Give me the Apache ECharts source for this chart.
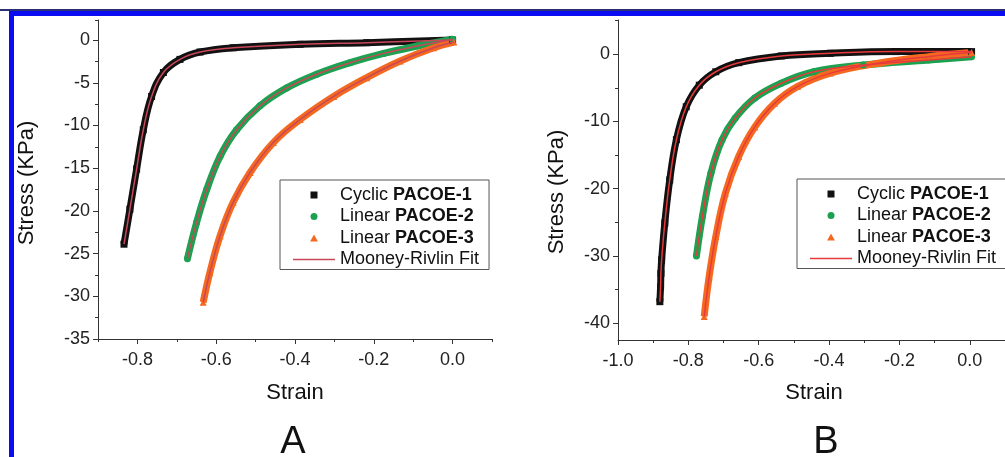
<!DOCTYPE html>
<html>
<head>
<meta charset="utf-8">
<script src="https://cdn.jsdelivr.net/npm/echarts@6/dist/echarts.min.js"></script>
<style>html,body{margin:0;padding:0;background:#fff}#c{width:1005px;height:457px}</style>
</head>
<body>
<div id="c"></div>
<script>
// ---- Panel A data (Strain, Stress KPa) ----
var aCyclic1X = [-0.834,-0.819,-0.802,-0.785,-0.764,-0.734,-0.692,-0.641,-0.557,-0.387,-0.218,0.0];
var aCyclic1Y = [-23.9,-19.8,-15.1,-10.5,-6.6,-3.8,-2.26,-1.4,-0.9,-0.5,-0.3,0.0];
var aLinear2X = [-0.673,-0.650,-0.624,-0.590,-0.548,-0.489,-0.421,-0.345,-0.260,-0.175,-0.090,0.0];
var aLinear2Y = [-25.6,-21.4,-17.5,-13.6,-10.5,-7.7,-5.6,-4.0,-2.65,-1.56,-0.7,0.1];
var aLinear3X = [-0.633,-0.616,-0.590,-0.557,-0.514,-0.455,-0.387,-0.302,-0.218,-0.133,-0.048,0.003];
var aLinear3Y = [-30.7,-27.2,-22.9,-19.0,-15.5,-12.0,-9.3,-6.6,-4.4,-2.45,-0.9,-0.23];
// ---- Panel B data ----
var bCyclic1X = [-0.881,-0.879,-0.878,-0.876,-0.867,-0.853,-0.834,-0.806,-0.769,-0.722,-0.657,-0.536,-0.396,-0.210,0.005];
var bCyclic1Y = [-36.8,-34.6,-32.6,-30.6,-25.1,-18.7,-12.7,-7.8,-4.6,-2.6,-1.25,-0.25,0.15,0.4,0.4];
var bLinear2X = [-0.777,-0.760,-0.736,-0.704,-0.667,-0.611,-0.536,-0.443,-0.303,-0.117,0.005];
var bLinear2Y = [-30.0,-24.1,-17.7,-12.7,-9.5,-6.5,-4.3,-2.6,-1.6,-0.85,-0.35];
var bLinear3X = [-0.755,-0.741,-0.722,-0.695,-0.657,-0.611,-0.555,-0.490,-0.396,-0.256,-0.117,0.005];
var bLinear3Y = [-39.0,-33.1,-27.1,-20.7,-15.2,-10.8,-7.3,-4.8,-2.8,-1.3,-0.35,0.25];

// ---- tick labels ----
var aXTicks = [-0.8,-0.6,-0.4,-0.2,0.0];
var aXMinor = [-0.9,-0.7,-0.5,-0.3,-0.1,0.1];
var aYTicks = [-35,-30,-25,-20,-15,-10,-5,0];
var aYMinor = [-32.5,-27.5,-22.5,-17.5,-12.5,-7.5,-2.5,2.35];
var bXTicks = [-1.0,-0.8,-0.6,-0.4,-0.2,0.0];
var bXMinor = [-0.9,-0.7,-0.5,-0.3,-0.1,0.1];
var bYTicks = [-40,-30,-20,-10,0];
var bYMinor = [-35,-25,-15,-5,5];

var names = ['Cyclic PACOE-1','Linear PACOE-2','Linear PACOE-3','Mooney-Rivlin Fit'];
var FONT = '"Liberation Sans", Arial, sans-serif';
var cBlack = '#111111', cGreen = '#1ca150', cOrange = '#f46820', cFitA = '#c8485a', cFitB = '#e83a3c';

function zip(xs, ys){ return xs.map(function(x,i){ return [x, ys[i]]; }); }

function axesFor(g, xmin, xmax, ymin, ymax, xt, xm, yt, ym){
  var axisLineStyle = {color:'#333', width:1};
  var xs = [
    {type:'value', gridIndex:g, min:xmin, max:xmax, position:'bottom',
     axisLine:{show:true, onZero:false, lineStyle:axisLineStyle},
     axisTick:{show:true, length:5, customValues:xt, lineStyle:axisLineStyle},
     axisLabel:{show:true, customValues:xt, margin:12, fontSize:18, color:'#222', fontFamily:FONT,
       formatter:function(v){ return (Math.abs(v)<1e-9?0:v).toFixed(1); }},
     splitLine:{show:false}},
    {type:'value', gridIndex:g, min:xmin, max:xmax, position:'bottom',
     axisLine:{show:false, onZero:false},
     axisTick:{show:true, length:3, customValues:xm, lineStyle:axisLineStyle},
     axisLabel:{show:false}, splitLine:{show:false}}
  ];
  var ys = [
    {type:'value', gridIndex:g, min:ymin, max:ymax, position:'left',
     axisLine:{show:true, onZero:false, lineStyle:axisLineStyle},
     axisTick:{show:true, length:5, customValues:yt, lineStyle:axisLineStyle},
     axisLabel:{show:true, customValues:yt, margin:8, fontSize:18, color:'#222', fontFamily:FONT,
       formatter:function(v){ return String(Math.round(v)); }},
     splitLine:{show:false}},
    {type:'value', gridIndex:g, min:ymin, max:ymax, position:'left',
     axisLine:{show:false, onZero:false},
     axisTick:{show:true, length:3, customValues:ym, lineStyle:axisLineStyle},
     axisLabel:{show:false}, splitLine:{show:false}}
  ];
  return {xs:xs, ys:ys};
}

var A = axesFor(0, -0.9, 0.1, -35, 2.35, aXTicks, aXMinor, aYTicks, aYMinor);
var B = axesFor(1, -1.0, 0.1, -42.5, 5.1, bXTicks, bXMinor, bYTicks, bYMinor);
var xAxes = A.xs.concat(B.xs);   // 0,1 -> grid0 ; 2,3 -> grid1
var yAxes = A.ys.concat(B.ys);

function dataSeries(name, xi, yi, pts, color, symbol){
  return {type:'line', name:name, xAxisIndex:xi, yAxisIndex:yi, data:pts,
    smooth:0.4, symbol:symbol, symbolSize:7, showSymbol:true,
    itemStyle:{color:color}, lineStyle:{color:color, width:7}, z:2, animation:false, silent:true};
}
function fitSeries(xi, yi, pts, color){
  return {type:'line', name:'Mooney-Rivlin Fit', xAxisIndex:xi, yAxisIndex:yi, data:pts,
    smooth:0.4, symbol:'none', showSymbol:false,
    itemStyle:{color:color}, lineStyle:{color:color, width:1.5}, z:5, animation:false, silent:true};
}

var series = [
  dataSeries(names[0], 0, 0, zip(aCyclic1X,aCyclic1Y), cBlack, 'rect'),
  dataSeries(names[1], 0, 0, zip(aLinear2X,aLinear2Y), cGreen, 'circle'),
  dataSeries(names[2], 0, 0, zip(aLinear3X,aLinear3Y), cOrange, 'triangle'),
  fitSeries(0, 0, zip(aCyclic1X,aCyclic1Y), cFitA),
  fitSeries(0, 0, zip(aLinear2X,aLinear2Y), cFitA),
  fitSeries(0, 0, zip(aLinear3X,aLinear3Y), cFitA),
  dataSeries(names[0], 2, 2, zip(bCyclic1X,bCyclic1Y), cBlack, 'rect'),
  dataSeries(names[1], 2, 2, zip(bLinear2X,bLinear2Y), cGreen, 'circle'),
  dataSeries(names[2], 2, 2, zip(bLinear3X,bLinear3Y), cOrange, 'triangle'),
  fitSeries(2, 2, zip(bCyclic1X,bCyclic1Y), cFitB),
  fitSeries(2, 2, zip(bLinear2X,bLinear2Y), cFitB),
  fitSeries(2, 2, zip(bLinear3X,bLinear3Y), cFitB)
];

var ICON_SQ = 'path://M0,0H10V10H0Z';
var ICON_CI = 'path://M5,0A5,5,0,1,1,5,10A5,5,0,1,1,5,0Z';
var ICON_TR = 'path://M5,0L10,9L0,9Z';
var ICON_LN = 'path://M0,0H56V2H0Z';

function legendFor(left, top, fitColor){
  return {
    orient:'vertical', left:left, top:top, itemWidth:42, itemHeight:7, itemGap:3.5,
    padding:[6, 10, 1, 13], borderColor:'#555', borderWidth:1, backgroundColor:'#fff',
    selectedMode:false, symbolKeepAspect:true,
    data:[
      {name:names[0], icon:ICON_SQ, itemStyle:{color:cBlack}},
      {name:names[1], icon:ICON_CI, itemStyle:{color:cGreen}},
      {name:names[2], icon:ICON_TR, itemStyle:{color:cOrange}},
      {name:names[3], icon:ICON_LN, itemStyle:{color:fitColor}}
    ],
    textStyle:{fontSize:18, fontFamily:FONT, color:'#111',
      rich:{n:{fontSize:18, fontFamily:FONT, color:'#111', lineHeight:20},
            b:{fontSize:18, fontFamily:FONT, color:'#111', fontWeight:'bold', lineHeight:20}}},
    formatter:function(name){
      if (name === names[3]) return '{n|' + name + '}';
      var i = name.indexOf(' ');
      return '{n|' + name.slice(0,i) + '} {b|' + name.slice(i+1) + '}';
    }
  };
}

function txt(x, y, text, size, rot){
  return {type:'text', x:x, y:y, rotation:rot||0, z:10,
    style:{text:text, fontSize:size, fontFamily:FONT, fill:'#111', align:'center', verticalAlign:'middle'}};
}

var option = {
  backgroundColor:'#ffffff',
  animation:false,
  grid:[
    {left:98, top:20, width:394, height:319},
    {left:618, top:20, width:393, height:320}
  ],
  xAxis:xAxes,
  yAxis:yAxes,
  legend:[legendFor(280, 180, cFitA), legendFor(797, 179, cFitB)],
  series:series,
  graphic:[
    {type:'rect', shape:{x:0, y:9, width:1005, height:2}, style:{fill:'#2a3274'}, z:20},
    {type:'rect', shape:{x:9, y:11, width:996, height:5}, style:{fill:'#0c0cf2'}, z:20},
    {type:'rect', shape:{x:9, y:11, width:5, height:446}, style:{fill:'#0c0cf2'}, z:20},
    txt(27, 183, 'Stress (KPa)', 22, Math.PI/2),
    txt(557, 192, 'Stress (KPa)', 22, Math.PI/2),
    txt(295, 393, 'Strain', 22),
    txt(814, 393, 'Strain', 22),
    txt(293, 443, 'A', 38),
    txt(826, 443, 'B', 38)
  ]
};

var chart = echarts.init(document.getElementById('c'), null, {renderer:'canvas'});
chart.setOption(option);
</script>
</body>
</html>
